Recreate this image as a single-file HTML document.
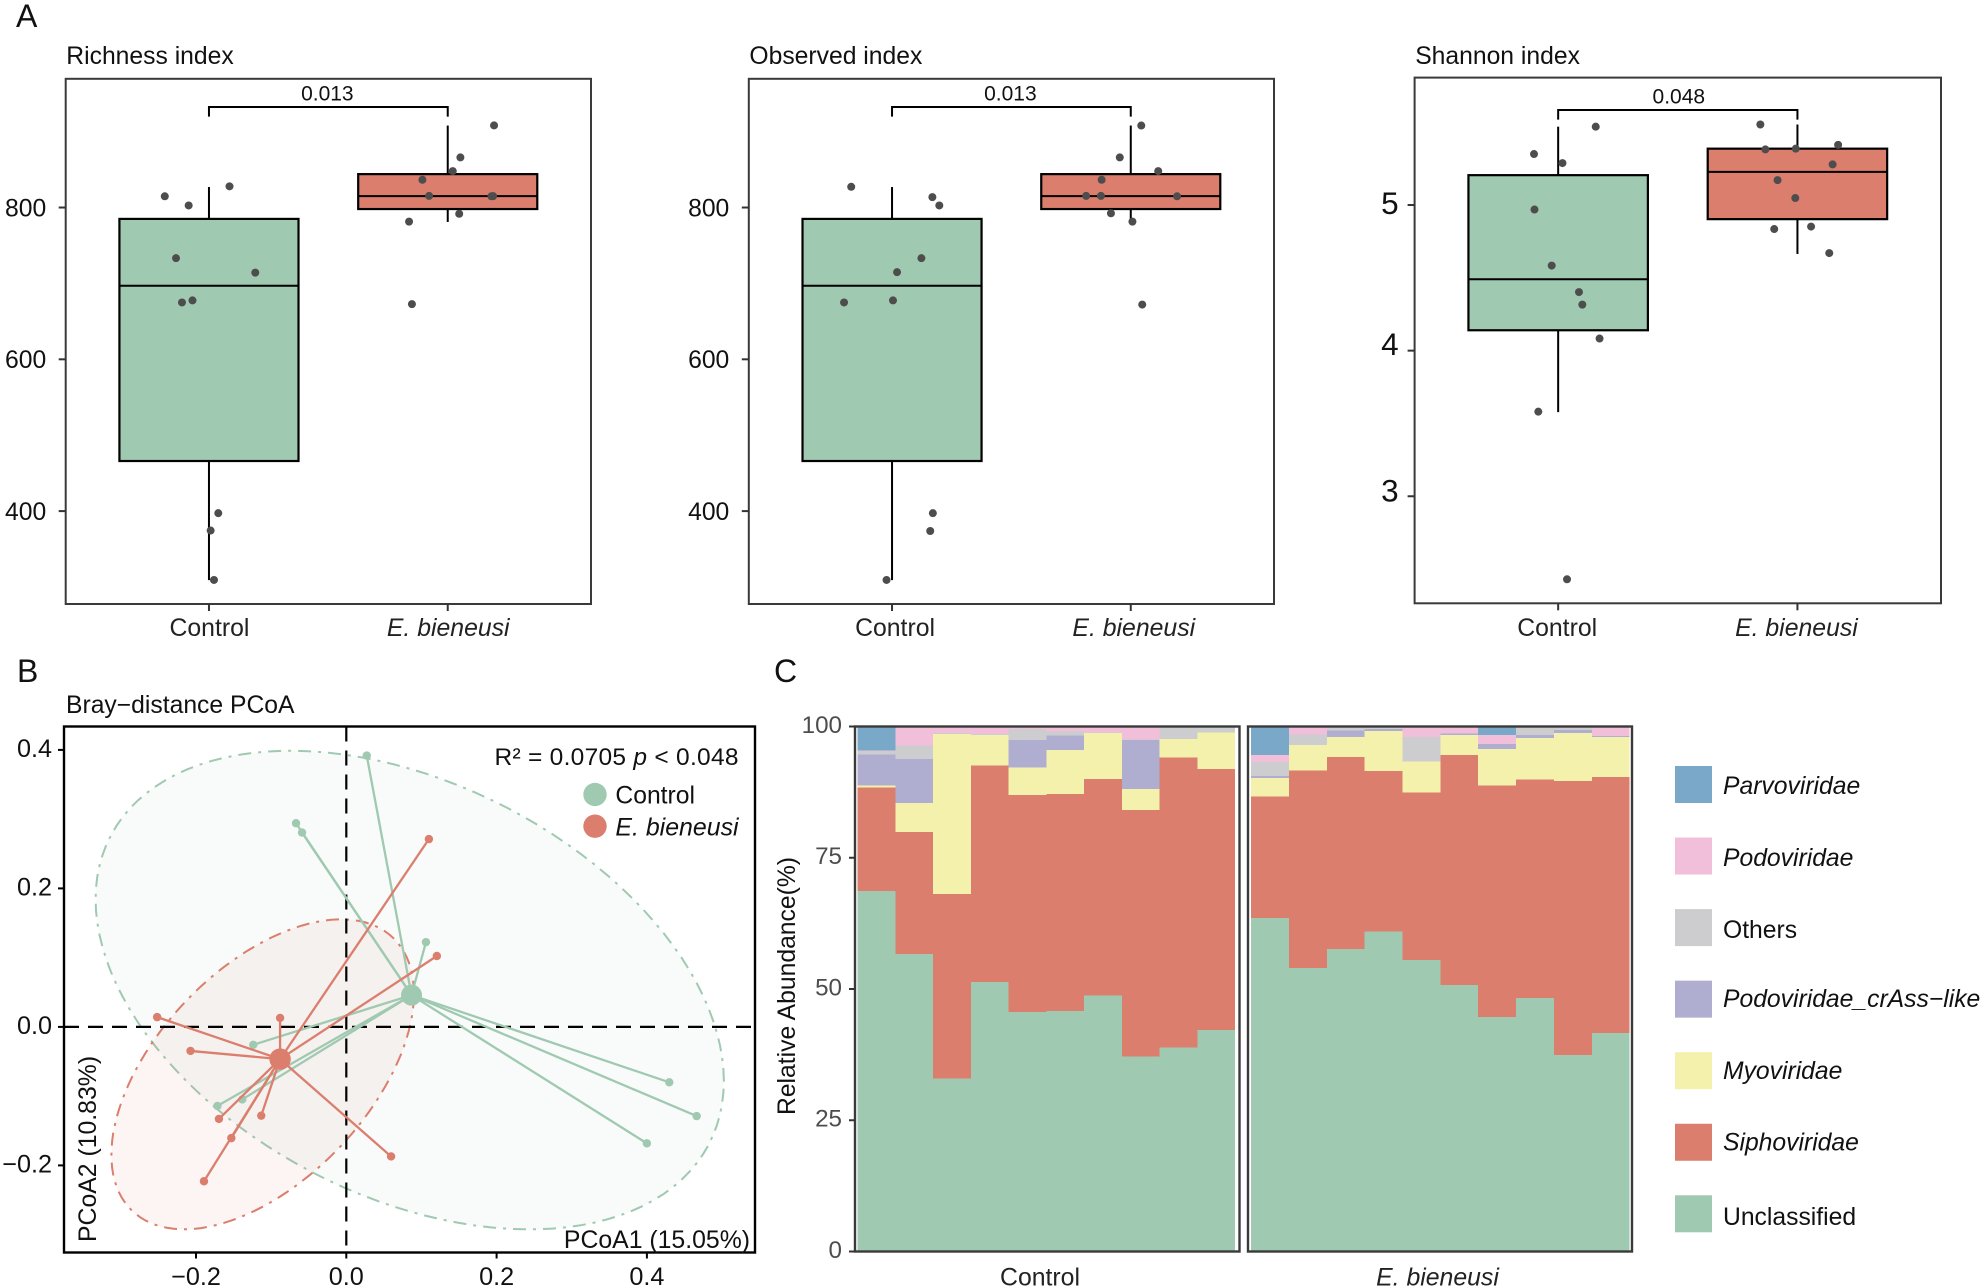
<!DOCTYPE html>
<html lang="en">
<head>
<meta charset="utf-8">
<title>Virome diversity and composition figure</title>
<style>
html,body{margin:0;padding:0;background:#fff;}
#figure{display:block;width:1985px;height:1288px;font-family:"Liberation Sans",Arial,sans-serif;}
text{font-family:"Liberation Sans",Arial,sans-serif;}
</style>
</head>
<body>
<svg id="figure" xmlns="http://www.w3.org/2000/svg" width="1985" height="1288" viewBox="0 0 1985 1288">
  <rect x="0" y="0" width="1985" height="1288" fill="#ffffff"/>
  <text x="16" y="27" font-size="32" fill="#111">A</text>
  <text x="17" y="682" font-size="32" fill="#111">B</text>
  <text x="774" y="682" font-size="32" fill="#111">C</text>
  <g id="layer"></g>
</svg>
<script>
// ---- Panel A data ----
const boxCategories = ['Control', 'E. bieneusi'];
// box stats: lower whisker, q1, median, q3, upper whisker
const richnessControlStats = [309, 466, 697, 785, 827];
const richnessBieneusiStats = [781, 798, 815, 844, 908];
const richnessControlValues = [814.8, 802.7, 827.9, 733.3, 714.2, 674.9, 677.6, 397.3, 374.4, 309.3];
const richnessControlJitter = [0.815, 0.915, 1.086, 0.862, 1.194, 0.887, 0.931, 1.039, 1.007, 1.021];
const richnessBieneusiValues = [908.2, 866, 848, 836.6, 815.3, 814.8, 815, 791.8, 781.4, 672.7];
const richnessBieneusiJitter = [2.194, 2.053, 2.021, 1.894, 1.922, 2.183, 2.19, 2.048, 1.838, 1.85];
const richnessTicks = [400, 600, 800];

const observedControlStats = [309, 466, 697, 785, 827];
const observedBieneusiStats = [781, 798, 815, 844, 908];
const observedControlValues = [827.3, 813.7, 802.7, 733.3, 714.8, 677.6, 674.9, 397.3, 373.8, 309.3];
const observedControlJitter = [0.829, 1.169, 1.198, 1.123, 1.021, 1.004, 0.799, 1.171, 1.16, 0.977];
const observedBieneusiValues = [908, 866, 848, 836.6, 815.3, 815.3, 814.8, 792.4, 781.4, 672.1];
const observedBieneusiJitter = [2.044, 1.954, 2.115, 1.878, 1.813, 1.875, 2.194, 1.917, 2.007, 2.048];
const observedTicks = [400, 600, 800];

const shannonControlStats = [3.578, 4.14, 4.49, 5.205, 5.538];
const shannonBieneusiStats = [4.664, 4.903, 5.228, 5.387, 5.553];
const shannonControlValues = [5.538, 5.35, 5.288, 4.969, 4.584, 4.402, 4.316, 4.083, 3.581, 2.43];
const shannonControlJitter = [1.157, 0.899, 1.018, 0.901, 0.973, 1.087, 1.101, 1.173, 0.917, 1.037];
const shannonBieneusiValues = [5.553, 5.382, 5.387, 5.413, 5.279, 5.171, 5.048, 4.835, 4.852, 4.67];
const shannonBieneusiJitter = [1.845, 1.866, 1.993, 2.17, 2.147, 1.917, 1.991, 1.903, 2.057, 2.133];
const shannonTicks = [3, 4, 5];

// ---- Panel B data ----
const pcoaXTicks = [-0.2, 0, 0.2, 0.4];
const pcoaYTicks = [-0.2, 0, 0.2, 0.4];
const pcoaXTickLabels = ['\u22120.2', '0.0', '0.2', '0.4'];
const pcoaYTickLabels = ['\u22120.2', '0.0', '0.2', '0.4'];
const controlPcoa1 = [0.0272, -0.0669, -0.0589, 0.106, -0.1238, -0.1715, -0.1384, 0.4298, 0.4662, 0.4];
const controlPcoa2 = [0.3918, 0.2941, 0.2806, 0.1224, -0.0259, -0.1141, -0.1047, -0.08, -0.1288, -0.1682];
const bieneusiPcoa1 = [0.1099, 0.1205, -0.0881, -0.2517, -0.2073, -0.1695, -0.1132, -0.153, -0.1894, 0.0596];
const bieneusiPcoa2 = [0.2712, 0.1024, 0.0129, 0.0141, -0.0347, -0.1329, -0.1282, -0.1606, -0.2229, -0.1871];
const controlCentroid = [0.0868, 0.0459];
const bieneusiCentroid = [-0.0881, -0.0465];
// ellipse: center x, center y, half-range x, half-range y, correlation
const controlEllipse = [0.0844, 0.0532, 0.418, 0.3456, -0.38];
const bieneusiEllipse = [-0.1113, -0.0685, 0.2013, 0.2238, 0.52];

// ---- Panel C data ----
const abundanceTicks = [0, 25, 50, 75, 100];
const familyNames = ['Unclassified', 'Siphoviridae', 'Myoviridae', 'Podoviridae_crAss\u2212like', 'Others', 'Podoviridae', 'Parvoviridae'];
const controlUnclassified = [68.7, 56.7, 33, 51.3, 45.6, 45.8, 48.8, 37.1, 38.9, 42.2];
const controlSiphoviridae = [19.7, 23.2, 35.1, 41.3, 41.4, 41.3, 41.2, 47, 55.2, 49.7];
const controlMyoviridae = [0.4, 5.5, 30.5, 5.8, 5.2, 8.4, 8.8, 4, 3.5, 7];
const controlCrAss = [5.9, 8.4, 0, 0, 5.2, 2.8, 0, 9.3, 0, 0];
const controlOthers = [0.6, 2.6, 0.2, 0.2, 2.1, 0.8, 0.1, 0.1, 2.3, 1.1];
const controlPodoviridae = [0.1, 3.4, 1.2, 1.4, 0.5, 0.9, 1.1, 2.5, 0.1, 0];
const controlParvoviridae = [4.6, 0.2, 0, 0, 0, 0, 0, 0, 0, 0];
const bieneusiUnclassified = [63.5, 54, 57.6, 61, 55.5, 50.8, 44.7, 48.3, 37.4, 41.6];
const bieneusiSiphoviridae = [23.2, 37.6, 36.6, 30.5, 31.9, 43.8, 44.1, 41.6, 52.2, 48.8];
const bieneusiMyoviridae = [3.5, 4.9, 3.8, 7.6, 5.9, 3.8, 6.9, 7.9, 9.2, 7.6];
const bieneusiCrAss = [0.4, 0, 1.2, 0.4, 0, 0.3, 1, 0.6, 0.5, 0.2];
const bieneusiOthers = [2.6, 2, 0.8, 0.5, 4.7, 0, 0, 1.6, 0.7, 0];
const bieneusiPodoviridae = [1.4, 1.5, 0, 0, 2, 1.3, 1.7, 0, 0, 1.8];
const bieneusiParvoviridae = [5.4, 0, 0, 0, 0, 0, 1.6, 0, 0, 0];

// ---- Style constants ----
const GREEN = '#a0c9b1', RED = '#db7e6d';
const FAMILY_COLORS = [GREEN, RED, '#f4f1ad', '#b0aed0', '#cdcdcf', '#f2bfda', '#7aa8c8'];
const BORDER = '#3a3a3a';
const NS = 'http://www.w3.org/2000/svg';
const layer = document.getElementById('layer');

function mk(tag, props, text) {
  const el = document.createElementNS(NS, tag);
  for (const k in props) el.setAttribute(k, props[k]);
  if (text !== undefined) el.textContent = text;
  layer.appendChild(el);
  return el;
}
function linearScale(d0, d1, r0, r1) {
  return v => r0 + (v - d0) / (d1 - d0) * (r1 - r0);
}

// ---- Box panels ----
function drawBoxPanel(cfg) {
  const x = linearScale(0.4, 2.6, cfg.left, cfg.right);
  const y = linearScale(cfg.domain[0], cfg.domain[1], cfg.bottom, cfg.top);
  const panelName = cfg.name;

  const title = mk('text', {x: cfg.left + 0.6, y: 63.8, 'font-size': 24.7, fill: '#111'}, cfg.title);
  
  

  const groups = [
    {key: 'control', c: 1, stats: cfg.controlStats, vals: cfg.controlValues, jit: cfg.controlJitter, fill: GREEN},
    {key: 'bieneusi', c: 2, stats: cfg.bieneusiStats, vals: cfg.bieneusiValues, jit: cfg.bieneusiJitter, fill: RED}
  ];
  groups.forEach(g => {
    const cx = x(g.c);
    const wLow = mk('line', {x1: cx, x2: cx, y1: y(g.stats[0]), y2: y(g.stats[1]), stroke: '#000', 'stroke-width': 2});
    
    
    const wHigh = mk('line', {x1: cx, x2: cx, y1: y(g.stats[3]), y2: y(g.stats[4]), stroke: '#000', 'stroke-width': 2});
    
    
    const half = x(1.375) - x(1);
    const box = mk('rect', {x: cx - half, y: y(g.stats[3]), width: 2 * half, height: y(g.stats[1]) - y(g.stats[3]), fill: g.fill, stroke: '#000', 'stroke-width': 2.2});
    
    
    const med = mk('line', {x1: cx - half, x2: cx + half, y1: y(g.stats[2]), y2: y(g.stats[2]), stroke: '#000', 'stroke-width': 2});
    
    
    g.vals.forEach((v, i) => {
      const pt = mk('circle', {cx: x(g.jit[i]), cy: y(v), r: 4, fill: '#4d4d4d'});
      
      
    });
  });

  const frame = mk('rect', {x: cfg.left, y: cfg.top, width: cfg.right - cfg.left, height: cfg.bottom - cfg.top, fill: 'none', stroke: BORDER, 'stroke-width': 2});
  
  

  cfg.ticks.forEach((t, i) => {
    const tk = mk('line', {x1: cfg.left - 7, x2: cfg.left, y1: y(t), y2: y(t), stroke: '#333', 'stroke-width': 2});
    
    
    const lb = mk('text', {x: cfg.left - cfg.tickGap, y: y(t) + cfg.tickFont * 0.36 + cfg.labelNudge[i], 'font-size': cfg.tickFont, 'text-anchor': 'end', fill: '#111'}, String(t));
    
    
  });
  boxCategories.forEach((c, i) => {
    const cx = x(i + 1);
    const tk = mk('line', {x1: cx, x2: cx, y1: cfg.bottom, y2: cfg.bottom + 7, stroke: '#333', 'stroke-width': 2});
    
    
    const lb = mk('text', {x: cx + cfg.labelDx, y: 636, 'font-size': 24.8, 'text-anchor': 'middle', fill: '#222', 'font-style': i === 1 ? 'italic' : 'normal'}, c);
    
    
  });

  const by = cfg.bracketY, tip = by + 9.6;
  const br = mk('path', {d: `M${x(1)} ${tip}V${by}H${x(2)}V${tip}`, fill: 'none', stroke: '#000', 'stroke-width': 2});
  
  
  const pv = mk('text', {x: x(1.5) + cfg.pDx, y: by - 6.5, 'font-size': 21, 'text-anchor': 'middle', fill: '#111'}, cfg.pLabel);
  
  
}

drawBoxPanel({name: 'richness', title: 'Richness index', left: 65.7, right: 591, top: 78.8, bottom: 604, domain: [277.6, 969.6],
  ticks: richnessTicks, tickFont: 24.7, tickGap: 19.5, labelNudge: [0, 0, 0], labelDx: 0.5, pDx: -1, bracketY: 107, pLabel: '0.013',
  controlStats: richnessControlStats, bieneusiStats: richnessBieneusiStats,
  controlValues: richnessControlValues, controlJitter: richnessControlJitter,
  bieneusiValues: richnessBieneusiValues, bieneusiJitter: richnessBieneusiJitter});
drawBoxPanel({name: 'observed', title: 'Observed index', left: 748.8, right: 1274, top: 78.8, bottom: 604, domain: [277.6, 969.6],
  ticks: observedTicks, tickFont: 24.7, tickGap: 19.5, labelNudge: [0, 0, 0], labelDx: 3, pDx: -1, bracketY: 107, pLabel: '0.013',
  controlStats: observedControlStats, bieneusiStats: observedBieneusiStats,
  controlValues: observedControlValues, controlJitter: observedControlJitter,
  bieneusiValues: observedBieneusiValues, bieneusiJitter: observedBieneusiJitter});
drawBoxPanel({name: 'shannon', title: 'Shannon index', left: 1414.6, right: 1941, top: 77.6, bottom: 603.3, domain: [2.265, 5.875],
  ticks: shannonTicks, tickFont: 31.5, tickGap: 16, labelNudge: [-6, -7, -2.5], labelDx: -1, pDx: 1, bracketY: 110, pLabel: '0.048',
  controlStats: shannonControlStats, bieneusiStats: shannonBieneusiStats,
  controlValues: shannonControlValues, controlJitter: shannonControlJitter,
  bieneusiValues: shannonBieneusiValues, bieneusiJitter: shannonBieneusiJitter});

// ---- PCoA panel ----
(function drawPcoa() {
  const L = 64, R = 755, T = 726.5, B = 1252.5;
  const x = linearScale(0, 0.2, 346.3, 496.6);
  const y = linearScale(0, 0.2, 1026.9, 888.4);

  const title = mk('text', {x: 66, y: 713, 'font-size': 24.7, fill: '#111'}, 'Bray\u2212distance PCoA');
  
  

  function ellipsePath(e) {
    const phi = Math.acos(e[4]);
    let d = '';
    for (let a = 0; a < 360; a += 3) {
      const t = a * Math.PI / 180;
      d += (a ? 'L' : 'M') + x(e[0] + e[2] * Math.cos(t)).toFixed(1) + ' ' + y(e[1] + e[3] * Math.cos(t - phi)).toFixed(1);
    }
    return d + 'Z';
  }
  const eg = mk('path', {d: ellipsePath(controlEllipse), fill: GREEN, 'fill-opacity': 0.075, stroke: GREEN, 'stroke-width': 2, 'stroke-dasharray': '13 7 3 7'});
  
  
  const er = mk('path', {d: ellipsePath(bieneusiEllipse), fill: RED, 'fill-opacity': 0.075, stroke: RED, 'stroke-width': 2, 'stroke-dasharray': '13 7 3 7'});
  
  

  const zh = mk('line', {x1: L, x2: R, y1: y(0), y2: y(0), stroke: '#000', 'stroke-width': 2.2, 'stroke-dasharray': '15 9'});
  
  
  const zv = mk('line', {x1: x(0), x2: x(0), y1: T, y2: B, stroke: '#000', 'stroke-width': 2.2, 'stroke-dasharray': '15 9'});
  
  

  function spokes(name, xs, ys, c, color) {
    xs.forEach((v, i) => {
      const ln = mk('line', {x1: x(c[0]), y1: y(c[1]), x2: x(v), y2: y(ys[i]), stroke: color, 'stroke-width': 2.3});
      
      
      const pt = mk('circle', {cx: x(v), cy: y(ys[i]), r: 4.2, fill: color});
      
      
    });
  }
  spokes('control', controlPcoa1, controlPcoa2, controlCentroid, GREEN);
  spokes('bieneusi', bieneusiPcoa1, bieneusiPcoa2, bieneusiCentroid, RED);
  const cg = mk('circle', {cx: x(controlCentroid[0]), cy: y(controlCentroid[1]), r: 10.5, fill: GREEN});
  
  
  const cr = mk('circle', {cx: x(bieneusiCentroid[0]), cy: y(bieneusiCentroid[1]), r: 10.7, fill: RED});
  
  

  const frame = mk('rect', {x: L, y: T, width: R - L, height: B - T, fill: 'none', stroke: '#000', 'stroke-width': 2.4});
  
  

  pcoaYTicks.forEach((t, i) => {
    const tk = mk('line', {x1: L - 6, x2: L, y1: y(t), y2: y(t), stroke: '#000', 'stroke-width': 2});
    
    
    const lb = mk('text', {x: 52, y: y(t) + 7, 'font-size': 25.2, 'text-anchor': 'end', fill: '#111'}, pcoaYTickLabels[i]);
    
    
  });
  pcoaXTicks.forEach((t, i) => {
    const tk = mk('line', {x1: x(t), x2: x(t), y1: B, y2: B + 6, stroke: '#000', 'stroke-width': 2});
    
    
    const lb = mk('text', {x: x(t), y: 1285, 'font-size': 25.2, 'text-anchor': 'middle', fill: '#111'}, pcoaXTickLabels[i]);
    
    
  });

  const ax1 = mk('text', {x: 750, y: 1248, 'font-size': 24.8, 'text-anchor': 'end', fill: '#111'}, 'PCoA1 (15.05%)');
  
  
  const ax2 = mk('text', {x: 0, y: 0, transform: 'translate(96 1242) rotate(-90)', 'font-size': 24.8, fill: '#111'}, 'PCoA2 (10.83%)');
  
  

  const stat = mk('text', {x: 494.5, y: 765, 'font-size': 24.5, fill: '#111', textLength: 244, lengthAdjust: 'spacing'});
  
  
  stat.innerHTML = 'R\u00b2 = 0.0705 <tspan font-style="italic">p</tspan> &lt; 0.048';

  const ld1 = mk('circle', {cx: 595, cy: 794.5, r: 11.7, fill: GREEN});
  
  
  const lt1 = mk('text', {x: 615.4, y: 803.3, 'font-size': 24.7, fill: '#111'}, 'Control');
  
  
  const ld2 = mk('circle', {cx: 595, cy: 826.2, r: 11.7, fill: RED});
  
  
  const lt2 = mk('text', {x: 615.4, y: 835.5, 'font-size': 24.9, fill: '#111', 'font-style': 'italic'}, 'E. bieneusi');
  
  
})();

// ---- Stacked bar panels ----
(function drawStacks() {
  const T = 726.5, B = 1251.5;
  const y = linearScale(0, 100, B, T);
  const facets = [
    {name: 'control', label: 'Control', italic: false, left: 855, right: 1239.5, barStart: 857.7, barEnd: 1235, labelX: 1040,
      series: [controlUnclassified, controlSiphoviridae, controlMyoviridae, controlCrAss, controlOthers, controlPodoviridae, controlParvoviridae]},
    {name: 'bieneusi', label: 'E. bieneusi', italic: true, left: 1248, right: 1632, barStart: 1251.2, barEnd: 1629.6, labelX: 1437.5,
      series: [bieneusiUnclassified, bieneusiSiphoviridae, bieneusiMyoviridae, bieneusiCrAss, bieneusiOthers, bieneusiPodoviridae, bieneusiParvoviridae]}
  ];
  facets.forEach(f => {
    const n = f.series[0].length;
    const band = i => f.barStart + i * (f.barEnd - f.barStart) / n;
    for (let i = 0; i < n; i++) {
      let cum = 0;
      f.series.forEach((s, k) => {
        const v = s[i];
        if (v > 0) {
          const r = mk('rect', {x: band(i), y: y(cum + v), width: band(i + 1) - band(i), height: y(cum) - y(cum + v), fill: FAMILY_COLORS[k], 'shape-rendering': 'crispEdges'});
          
          
        }
        cum += v;
      });
    }
    const frame = mk('rect', {x: f.left, y: T, width: f.right - f.left, height: B - T, fill: 'none', stroke: BORDER, 'stroke-width': 2.4});
    
    
    const lb = mk('text', {x: f.labelX, y: 1285.5, 'font-size': 24.8, 'text-anchor': 'middle', fill: '#222', 'font-style': f.italic ? 'italic' : 'normal'}, f.label);
    
    
  });
  abundanceTicks.forEach(t => {
    const tk = mk('line', {x1: 849, x2: 855, y1: y(t), y2: y(t), stroke: '#333', 'stroke-width': 2});
    
    
    const lb = mk('text', {x: 842, y: y(t) + 6.3, 'font-size': 24.2, 'text-anchor': 'end', fill: '#4d4d4d'}, String(t));
    
    
  });
  const yt = mk('text', {x: 0, y: 0, transform: 'translate(795 1115) rotate(-90)', 'font-size': 24.7, fill: '#111'}, 'Relative Abundance(%)');
  
  

  const legendOrder = [6, 5, 4, 3, 2, 1, 0];
  const legendTextNudge = [0.8, 1.2, 2, -0.8, -0.4, -0.4, 2.8];
  legendOrder.forEach((k, i) => {
    const top = 766 + i * 71.55;
    const sw = mk('rect', {x: 1675, y: top, width: 37, height: 37, fill: FAMILY_COLORS[k]});
    
    
    const plain = familyNames[k] === 'Others' || familyNames[k] === 'Unclassified';
    const lb = mk('text', {x: 1723, y: top + 27 + legendTextNudge[i], 'font-size': 24.7, fill: '#111', 'font-style': plain ? 'normal' : 'italic'}, familyNames[k]);
    
    
  });
})();
</script>
</body>
</html>
